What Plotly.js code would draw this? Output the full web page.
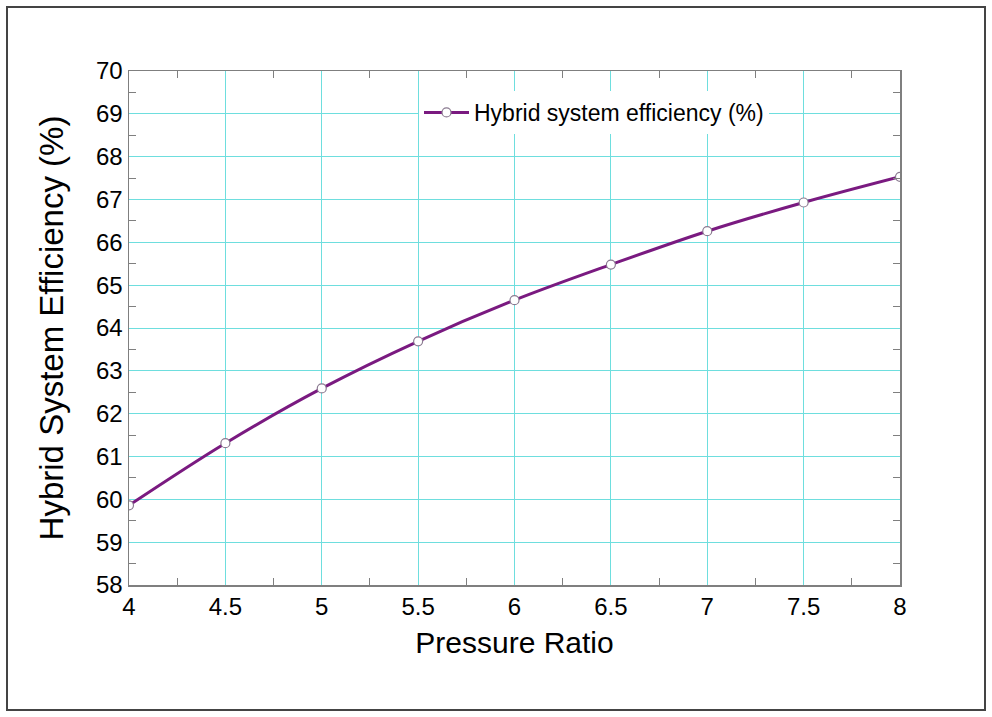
<!DOCTYPE html>
<html>
<head>
<meta charset="utf-8">
<script src="https://cdn.plot.ly/plotly-3.0.1.min.js"></script>
<style>
  html, body { margin: 0; padding: 0; background: #fff; }
  #chart { width: 992px; height: 717px; }
</style>
</head>
<body>
<div id="chart"></div>
<script>
// Data
const pressureRatio = [4, 4.5, 5, 5.5, 6, 6.5, 7, 7.5, 8];
const hybridEfficiency = [59.86, 61.31, 62.59, 63.69, 64.65, 65.48, 66.26, 66.93, 67.53];
const seriesName = 'Hybrid system efficiency (%)';
const xRange = [4, 8], xStep = 0.5, xMinorStep = 0.25;
const yRange = [58, 70], yStep = 1, yMinorStep = 0.5;

const FONT = 'Liberation Sans, Arial, Helvetica, sans-serif';
const GRID = 'rgb(110,222,222)';
const FRAME = '#7f7f7f';

const trace = {
  x: pressureRatio,
  y: hybridEfficiency,
  name: seriesName,
  type: 'scatter',
  mode: 'lines+markers',
  line: { color: '#7a1a80', width: 3, shape: 'spline', smoothing: 1 },
  marker: { size: 9, color: '#ffffff', line: { color: '#8a7a90', width: 1.2 } },
  cliponaxis: true
};

const L = 129, R = 900, T = 71, B = 585, W = 992, H = 717;
const pw = R - L, ph = B - T;

const layout = {
  template: { layout: {}, data: {} },
  width: W, height: H,
  margin: { l: L, r: W - R, t: T, b: H - B, pad: 0 },
  paper_bgcolor: '#ffffff',
  plot_bgcolor: '#ffffff',
  font: { family: FONT, color: '#000000', size: 22 },
  showlegend: true,
  legend: {
    x: (419 - L) / pw, xanchor: 'left',
    y: (B - 91) / ph, yanchor: 'top',
    bgcolor: '#ffffff', borderwidth: 0,
    font: { family: FONT, size: 23, color: '#000' },
    itemwidth: 45
  },
  xaxis: {
    range: xRange,
    tickmode: 'linear', tick0: xRange[0], dtick: xStep,
    showgrid: true, gridcolor: GRID, gridwidth: 1,
    zeroline: false,
    showline: true, linecolor: FRAME, linewidth: 1.5, mirror: 'ticks',
    ticks: 'inside', ticklen: 0.01, tickcolor: GRID,
    minor: { tick0: xRange[0], dtick: xMinorStep, ticks: 'inside', ticklen: 7,
             tickcolor: FRAME, tickwidth: 1, showgrid: false },
    tickfont: { family: FONT, size: 24, color: '#000' },
    title: { text: 'Pressure Ratio', font: { family: FONT, size: 30, color: '#000' }, standoff: 12 },
    automargin: false
  },
  yaxis: {
    range: yRange,
    tickmode: 'linear', tick0: yRange[0], dtick: yStep,
    showgrid: true, gridcolor: GRID, gridwidth: 1,
    zeroline: false,
    showline: true, linecolor: FRAME, linewidth: 1.5, mirror: 'ticks',
    ticks: 'inside', ticklen: 0.01, tickcolor: GRID,
    minor: { tick0: yRange[0], dtick: yMinorStep, ticks: 'inside', ticklen: 7,
             tickcolor: FRAME, tickwidth: 1, showgrid: false },
    tickfont: { family: FONT, size: 24, color: '#000' },
    title: { text: 'Hybrid System Efficiency (%)', font: { family: FONT, size: 33, color: '#000' }, standoff: 22 },
    automargin: false
  },
  shapes: [{
    type: 'rect', xref: 'paper', yref: 'paper',
    x0: (7 - L) / pw, x1: (985 - L) / pw,
    y0: (B - 710) / ph, y1: (B - 7) / ph,
    line: { color: '#444444', width: 2 }, fillcolor: 'rgba(0,0,0,0)', layer: 'below'
  }]
};

Plotly.newPlot('chart', [trace], layout, { displayModeBar: false, staticPlot: true });
</script>
</body>
</html>
